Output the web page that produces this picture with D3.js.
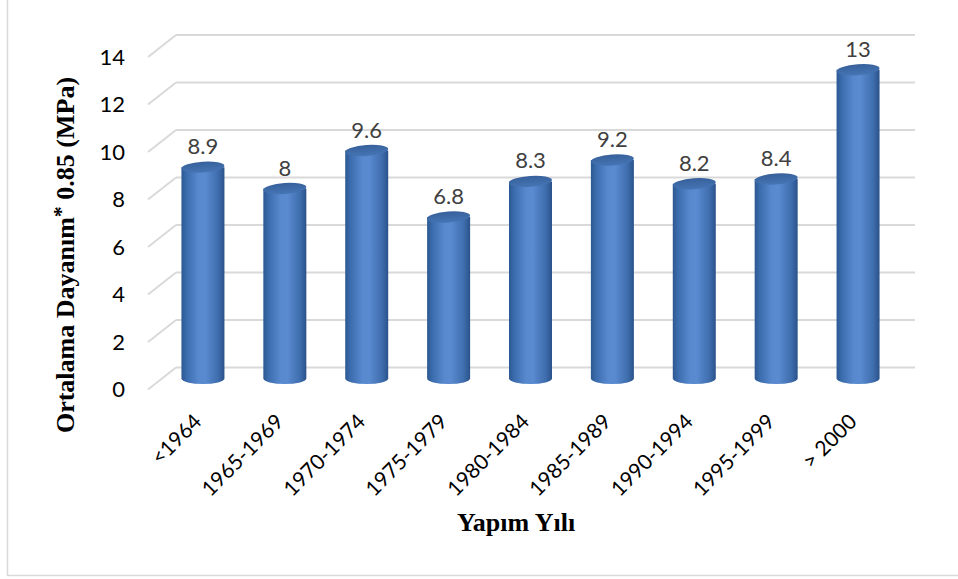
<!DOCTYPE html>
<html><head><meta charset="utf-8">
<script src="https://cdn.jsdelivr.net/npm/d3@7"></script>
<style>html,body{margin:0;padding:0;background:#fff;}svg{display:block;}</style>
</head><body>
<svg id="c" width="958" height="579"></svg>
<script>
const categories = ["<1964","1965-1969","1970-1974","1975-1979","1980-1984","1985-1989","1990-1994","1995-1999","> 2000"];
const values = [8.9, 8, 9.6, 6.8, 8.3, 9.2, 8.2, 8.4, 13];
const yTicks = [0, 2, 4, 6, 8, 10, 12, 14];
const yTitle = "Ortalama Dayanım";
const yTitleRest = " 0.85 (MPa)";
const xTitle = "Yapım Yılı";

const svg = d3.select("#c");
const FONT = "Lato, Carlito, sans-serif";
// frame
svg.append("rect").attr("x", 7.5).attr("y", -1).attr("width", 960).attr("height", 576.5)
  .attr("fill", "none").attr("stroke", "#d9d9d9").attr("stroke-width", 1.5);

const depthX = 28, depthY = -22; // front -> back offset
const yBack = d3.scaleLinear().domain([0, 14]).range([367.5, 35]);
const x = d3.scaleBand().domain(categories).range([162, 899]).paddingInner(0).paddingOuter(0);
const backLeft = 176, backRight = 915;

// gridlines
const grid = svg.append("g");
yTicks.forEach(t => {
  const yb = yBack(t);
  grid.append("line").attr("x1", backLeft).attr("x2", backRight).attr("y1", yb).attr("y2", yb)
    .attr("stroke", "#d9d9d9").attr("stroke-width", 2);
  grid.append("line").attr("x1", backLeft - depthX).attr("y1", yb - depthY).attr("x2", backLeft).attr("y2", yb)
    .attr("stroke", "#d9d9d9").attr("stroke-width", 2);
});

// y tick labels
svg.append("g").selectAll("text").data(yTicks).join("text")
  .attr("x", 125).attr("y", d => yBack(d) - depthY)
  .attr("dy", "0.36em").attr("text-anchor", "end")
  .attr("font-family", FONT).attr("font-size", 22).attr("fill", "#000")
  .text(d => d);

// gradient
const defs = svg.append("defs");
const g = defs.append("linearGradient").attr("id", "cyl").attr("x1", "0").attr("x2", "1").attr("y1", "0").attr("y2", "0");
[[0, "#2d5891"], [0.12, "#3b6cad"], [0.4, "#5889cf"], [0.55, "#5a8bd1"], [0.85, "#3f6eae"], [1, "#2a528a"]]
  .forEach(([o, c]) => g.append("stop").attr("offset", o).attr("stop-color", c));
const gt = defs.append("linearGradient").attr("id", "cylTop").attr("x1", "0").attr("x2", "0").attr("y1", "0").attr("y2", "1");
[[0, "#36609a"], [1, "#4675b5"]].forEach(([o, c]) => gt.append("stop").attr("offset", o).attr("stop-color", c));

const rx = 21.5, ry = 5.5;
const midOff = { x: -depthX / 2, y: -depthY / 2 };
const bars = svg.append("g").selectAll("g").data(categories.map((c, i) => ({ c, v: values[i] }))).join("g");
bars.each(function (d) {
  const gg = d3.select(this);
  const cx = x(d.c) + x.bandwidth() / 2;
  const yTop = yBack(d.v) + midOff.y;
  const yBot = yBack(0) + midOff.y;
  gg.append("path")
    .attr("d", `M${cx - rx},${yTop} L${cx - rx},${yBot} A${rx},${ry} 0 0 0 ${cx + rx},${yBot} L${cx + rx},${yTop} Z`)
    .attr("fill", "url(#cyl)");
  gg.append("ellipse").attr("cx", cx).attr("cy", yTop).attr("rx", rx).attr("ry", ry)
    .attr("transform", `rotate(-4,${cx},${yTop})`)
    .attr("fill", "url(#cylTop)");
  gg.append("text").attr("x", cx).attr("y", yTop - 13).attr("text-anchor", "middle")
    .attr("font-family", FONT).attr("font-size", 22).attr("fill", "#404040")
    .text(d.v);
  gg.append("text").attr("transform", `translate(${cx},423) rotate(-45)`).attr("text-anchor", "end")
    .attr("font-family", FONT).attr("font-size", 21).attr("fill", "#000")
    .text(d.c);
});

// axis titles
svg.append("text").attr("x", 516).attr("y", 531).attr("text-anchor", "middle")
  .attr("font-family", "'Liberation Serif', 'Times New Roman', serif").attr("font-weight", "bold")
  .attr("font-size", 26).attr("fill", "#000").text(xTitle);

const yt = svg.append("text").attr("transform", "translate(74,255) rotate(-90)").attr("text-anchor", "middle")
  .attr("font-family", "'Liberation Serif', 'Times New Roman', serif").attr("font-weight", "bold")
  .attr("font-size", 26).attr("fill", "#000");
yt.append("tspan").text(yTitle);
yt.append("tspan").attr("dy", -6).attr("font-size", 22).text("*");
yt.append("tspan").attr("dy", 6).text(yTitleRest);
</script>
</body></html>
